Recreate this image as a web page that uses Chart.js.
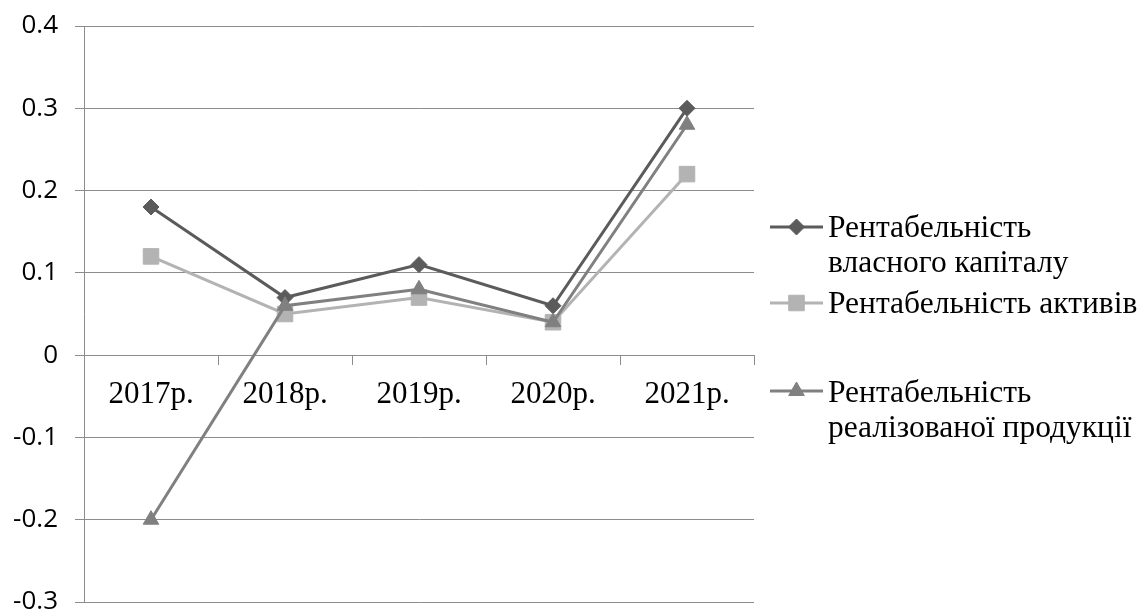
<!DOCTYPE html>
<html lang="uk">
<head>
<meta charset="utf-8">
<title>Рентабельність 2017–2021</title>
<script src="https://cdn.jsdelivr.net/npm/chart.js@4.4.1/dist/chart.umd.min.js"></script>
<style>
  html, body { margin: 0; padding: 0; background: #ffffff; }
  #wrap { width: 1144px; height: 614px; position: relative; }
</style>
</head>
<body>
<div id="wrap"><canvas id="chart" width="1144" height="614"></canvas></div>
<script>
// Роки звітного періоду
const years = ['2017р.', '2018р.', '2019р.', '2020р.', '2021р.'];

// Показники рентабельності
const equityReturn = [0.18, 0.07, 0.11, 0.06, 0.30];   // власного капіталу
const assetReturn = [0.12, 0.05, 0.07, 0.04, 0.22];    // активів
const salesReturn = [-0.20, 0.06, 0.08, 0.04, 0.28];   // реалізованої продукції

// Підписи легенди (з переносом рядків)
const legendLines = [
  ['Рентабельність', 'власного капіталу'],
  ['Рентабельність активів'],
  ['Рентабельність', 'реалізованої продукції']
];

// Поділки осі значень
const yTickLabels = ['-0.3', '-0.2', '-0.1', '0', '0.1', '0.2', '0.3', '0.4'];
const yMin = -0.3, yMax = 0.4, yStep = 0.1;

const gridColor = '#8c8c8c';
const serif = '"Liberation Serif", "Times New Roman", serif';
const sans = '"Open Sans", "Liberation Sans", sans-serif';

// Легенда праворуч: лінія з маркером і підпис у кілька рядків
const sideLegend = {
  id: 'sideLegend',
  afterDraw(chart, args, opts) {
    const ctx = chart.ctx;
    ctx.save();
    chart.data.datasets.forEach((ds, i) => {
      const lineY = opts.rows[i].lineY;
      ctx.strokeStyle = ds.borderColor;
      ctx.lineWidth = 3;
      ctx.beginPath();
      ctx.moveTo(opts.lineX0, lineY);
      ctx.lineTo(opts.lineX1, lineY);
      ctx.stroke();
      const cx = (opts.lineX0 + opts.lineX1) / 2;
      ctx.fillStyle = ds.pointBackgroundColor;
      ctx.strokeStyle = ds.pointBorderColor;
      ctx.lineWidth = ds.pointBorderWidth;
      Chart.helpers.drawPoint(ctx, {
        pointStyle: ds.pointStyle,
        radius: ds.pointRadius,
        rotation: 0,
        borderWidth: ds.pointBorderWidth
      }, cx, lineY);
      ctx.fillStyle = '#000';
      ctx.font = opts.font;
      ctx.textAlign = 'left';
      ctx.textBaseline = 'alphabetic';
      legendLines[i].forEach((line, k) => {
        ctx.fillText(line, opts.textX, opts.rows[i].baseline + k * opts.lineGap);
      });
    });
    ctx.restore();
  }
};

function series(label, data, color, style, radius, order) {
  return {
    label: label,
    data: data,
    borderColor: color,
    backgroundColor: color,
    borderWidth: 3,
    tension: 0,
    pointStyle: style,
    pointRadius: radius,
    pointHoverRadius: radius,
    pointBackgroundColor: color,
    pointBorderColor: color,
    pointBorderWidth: 1,
    order: order
  };
}

const chart = new Chart(document.getElementById('chart'), {
  type: 'line',
  data: {
    labels: years,
    datasets: [
      series(legendLines[0].join(' '), equityReturn, '#5b5b5b', 'rectRot', 8, 2),
      series(legendLines[1].join(' '), assetReturn, '#b3b3b3', 'rect', 11, 1),
      series(legendLines[2].join(' '), salesReturn, '#808080', 'triangle', 9, 0)
    ]
  },
  options: {
    responsive: false,
    animation: false,
    events: [],
    layout: { padding: { left: 0, right: 390, top: 26, bottom: 11 } },
    plugins: {
      legend: { display: false },
      tooltip: { enabled: false },
      sideLegend: {
        lineX0: 770,
        lineX1: 823,
        textX: 828,
        lineGap: 35,
        font: '31.5px ' + serif,
        rows: [
          { lineY: 227, baseline: 237 },
          { lineY: 303, baseline: 313 },
          { lineY: 391, baseline: 402 }
        ]
      }
    },
    scales: {
      x: {
        type: 'category',
        position: { y: 0 },
        offset: true,
        grid: {
          offset: true,
          drawOnChartArea: false,
          drawTicks: true,
          tickLength: 9,
          color: gridColor,
          lineWidth: 1
        },
        border: { display: true, color: gridColor, width: 1 },
        ticks: {
          color: '#000',
          padding: 12,
          maxRotation: 0,
          autoSkip: false,
          font: { family: serif, size: 31 }
        }
      },
      y: {
        min: yMin,
        max: yMax,
        afterFit(scale) {
          // фіксована ширина осі; підписи крайніх поділок не зсувають область графіка
          scale.width = 84;
          scale.paddingTop = 0;
          scale.paddingBottom = 0;
        },
        grid: {
          color: gridColor,
          lineWidth: 1,
          drawTicks: true,
          tickLength: 9
        },
        border: { display: true, color: gridColor, width: 1 },
        ticks: {
          stepSize: yStep,
          autoSkip: false,
          color: '#000',
          padding: 17,
          font: { family: sans, size: 26 },
          callback(value) {
            const idx = Math.round((value - yMin) / yStep);
            return yTickLabels[idx];
          }
        }
      }
    }
  },
  plugins: [sideLegend]
});
</script>
</body>
</html>
